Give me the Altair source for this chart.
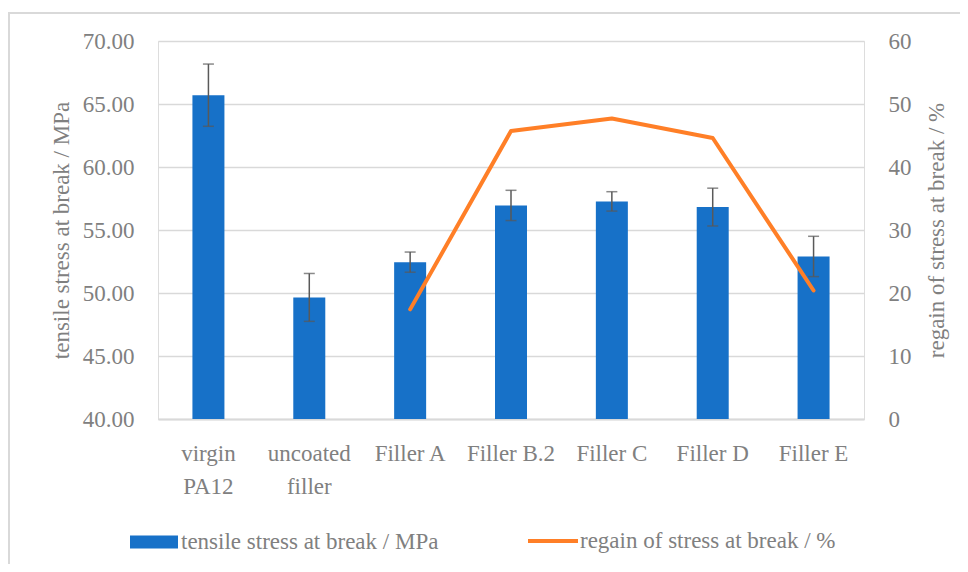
import altair as alt
import pandas as pd

categories = ["virgin\nPA12", "uncoated\nfiller", "Filler A", "Filler B.2", "Filler C", "Filler D", "Filler E"]
stress = [65.70, 49.65, 52.45, 56.95, 57.27, 56.82, 52.90]
stress_err = [2.47, 1.90, 0.80, 1.20, 0.77, 1.50, 1.60]
regain = [None, None, 17.4, 45.7, 47.7, 44.6, 20.4]

left_ticks = [40, 45, 50, 55, 60, 65, 70]
right_ticks = [0, 10, 20, 30, 40, 50, 60]

BAR_NAME = "tensile stress at break / MPa"
LINE_NAME = "regain of stress at break / %"
FONT = "Liberation Serif"
GREY = "#808080"
GRID = "#d9d9d9"
BLUE = "#1771C8"
ORANGE = "#FF7F27"

df = pd.DataFrame({
    "cat": categories,
    "stress": stress,
    "lo": [s - e for s, e in zip(stress, stress_err)],
    "hi": [s + e for s, e in zip(stress, stress_err)],
    "regain": regain,
})

xenc = alt.X(
    "cat:N",
    sort=categories,
    scale=alt.Scale(paddingInner=0, paddingOuter=0),
    axis=alt.Axis(
        title=None,
        labelAngle=0,
        labelExpr="split(datum.label, '\\n')",
        ticks=False,
        domain=True,
        domainColor=GRID,
        domainWidth=2,
        labelPadding=23,
        labelFont=FONT,
        labelFontSize=23,
        labelColor=GREY,
        labelLineHeight=33,
        grid=False,
    ),
)

yleft = alt.Scale(domain=[40, 70], nice=False, zero=False)

bars = alt.Chart(df).transform_calculate(series=f"'{BAR_NAME}'").mark_bar(size=32, clip=True).encode(
    x=xenc,
    y=alt.Y(
        "stress:Q",
        scale=yleft,
        axis=alt.Axis(
            title="tensile stress at break / MPa",
            values=left_ticks,
            format=".2f",
            grid=True,
            gridColor=GRID,
            gridWidth=1.5,
            domain=False,
            ticks=False,
            labelPadding=24,
            labelFont=FONT,
            labelFontSize=23,
            labelColor=GREY,
            titleFont=FONT,
            titleFontSize=23,
            titleFontWeight="normal",
            titleColor=GREY,
            titlePadding=9,
        ),
    ),
    y2=alt.datum(40),
    fill=alt.Fill(
        "series:N",
        scale=alt.Scale(domain=[BAR_NAME], range=[BLUE]),
        legend=alt.Legend(
            title=None,
            orient="none",
            legendX=-28,
            legendY=477,
            symbolType="M-1,-0.27H1V0.27H-1Z",
            symbolSize=2304,
            symbolStrokeWidth=0,
            labelOffset=3,
            labelLimit=0,
            labelFont=FONT,
            labelFontSize=23,
            labelColor=GREY,
            padding=0,
        ),
    ),
)

err_rule = alt.Chart(df).mark_rule(color="#595959", strokeWidth=1.5).encode(
    x=alt.X("cat:N", sort=categories),
    y=alt.Y("lo:Q", scale=yleft),
    y2="hi:Q",
)
err_hi = alt.Chart(df).mark_tick(color="#595959", thickness=1.5, size=11).encode(
    x=alt.X("cat:N", sort=categories),
    y=alt.Y("hi:Q", scale=yleft),
)
err_lo = alt.Chart(df).mark_tick(color="#595959", thickness=1.5, size=11).encode(
    x=alt.X("cat:N", sort=categories),
    y=alt.Y("lo:Q", scale=yleft),
)

left = alt.layer(bars, err_rule, err_hi, err_lo)

line = alt.Chart(df).transform_filter("isValid(datum.regain)").transform_calculate(
    series2=f"'{LINE_NAME}'"
).mark_line(strokeWidth=4, strokeCap="round", strokeJoin="round").encode(
    x=alt.X("cat:N", sort=categories),
    y=alt.Y(
        "regain:Q",
        scale=alt.Scale(domain=[0, 60], nice=False),
        axis=alt.Axis(
            title="regain of stress at break / %",
            orient="right",
            values=right_ticks,
            grid=False,
            domain=False,
            ticks=False,
            labelPadding=24,
            labelFont=FONT,
            labelFontSize=23,
            labelColor=GREY,
            titleFont=FONT,
            titleFontSize=23,
            titleFontWeight="normal",
            titleColor=GREY,
            titleAngle=270,
            titleBaseline="top",
            titlePadding=14,
        ),
    ),
    stroke=alt.Stroke(
        "series2:N",
        scale=alt.Scale(domain=[LINE_NAME], range=[ORANGE]),
        legend=alt.Legend(
            title=None,
            orient="none",
            legendX=368,
            legendY=473,
            symbolType="stroke",
            symbolSize=2500,
            symbolStrokeWidth=4,
            labelOffset=0,
            labelLimit=0,
            labelFont=FONT,
            labelFontSize=23,
            labelColor=GREY,
            padding=0,
        ),
    ),
)

frame_df = pd.DataFrame({"k": [0]})
frame = alt.Chart(frame_df).mark_rect(fill=None, stroke=GRID, strokeWidth=2, clip=False).encode(
    x=alt.value(-149),
    x2=alt.value(950),
    y=alt.value(-28),
    y2=alt.value(600),
)

chart = alt.layer(frame, left, line).resolve_scale(
    y="independent", fill="independent", stroke="independent"
).properties(
    width=706,
    height=378,
    autosize=alt.AutoSizeParams(type="none"),
    padding={"left": 150, "top": 33, "right": 96, "bottom": 145},
).configure_view(stroke=None).configure(background="white")

chart.save("out.html", embed_options={"renderer": "svg", "actions": False})
